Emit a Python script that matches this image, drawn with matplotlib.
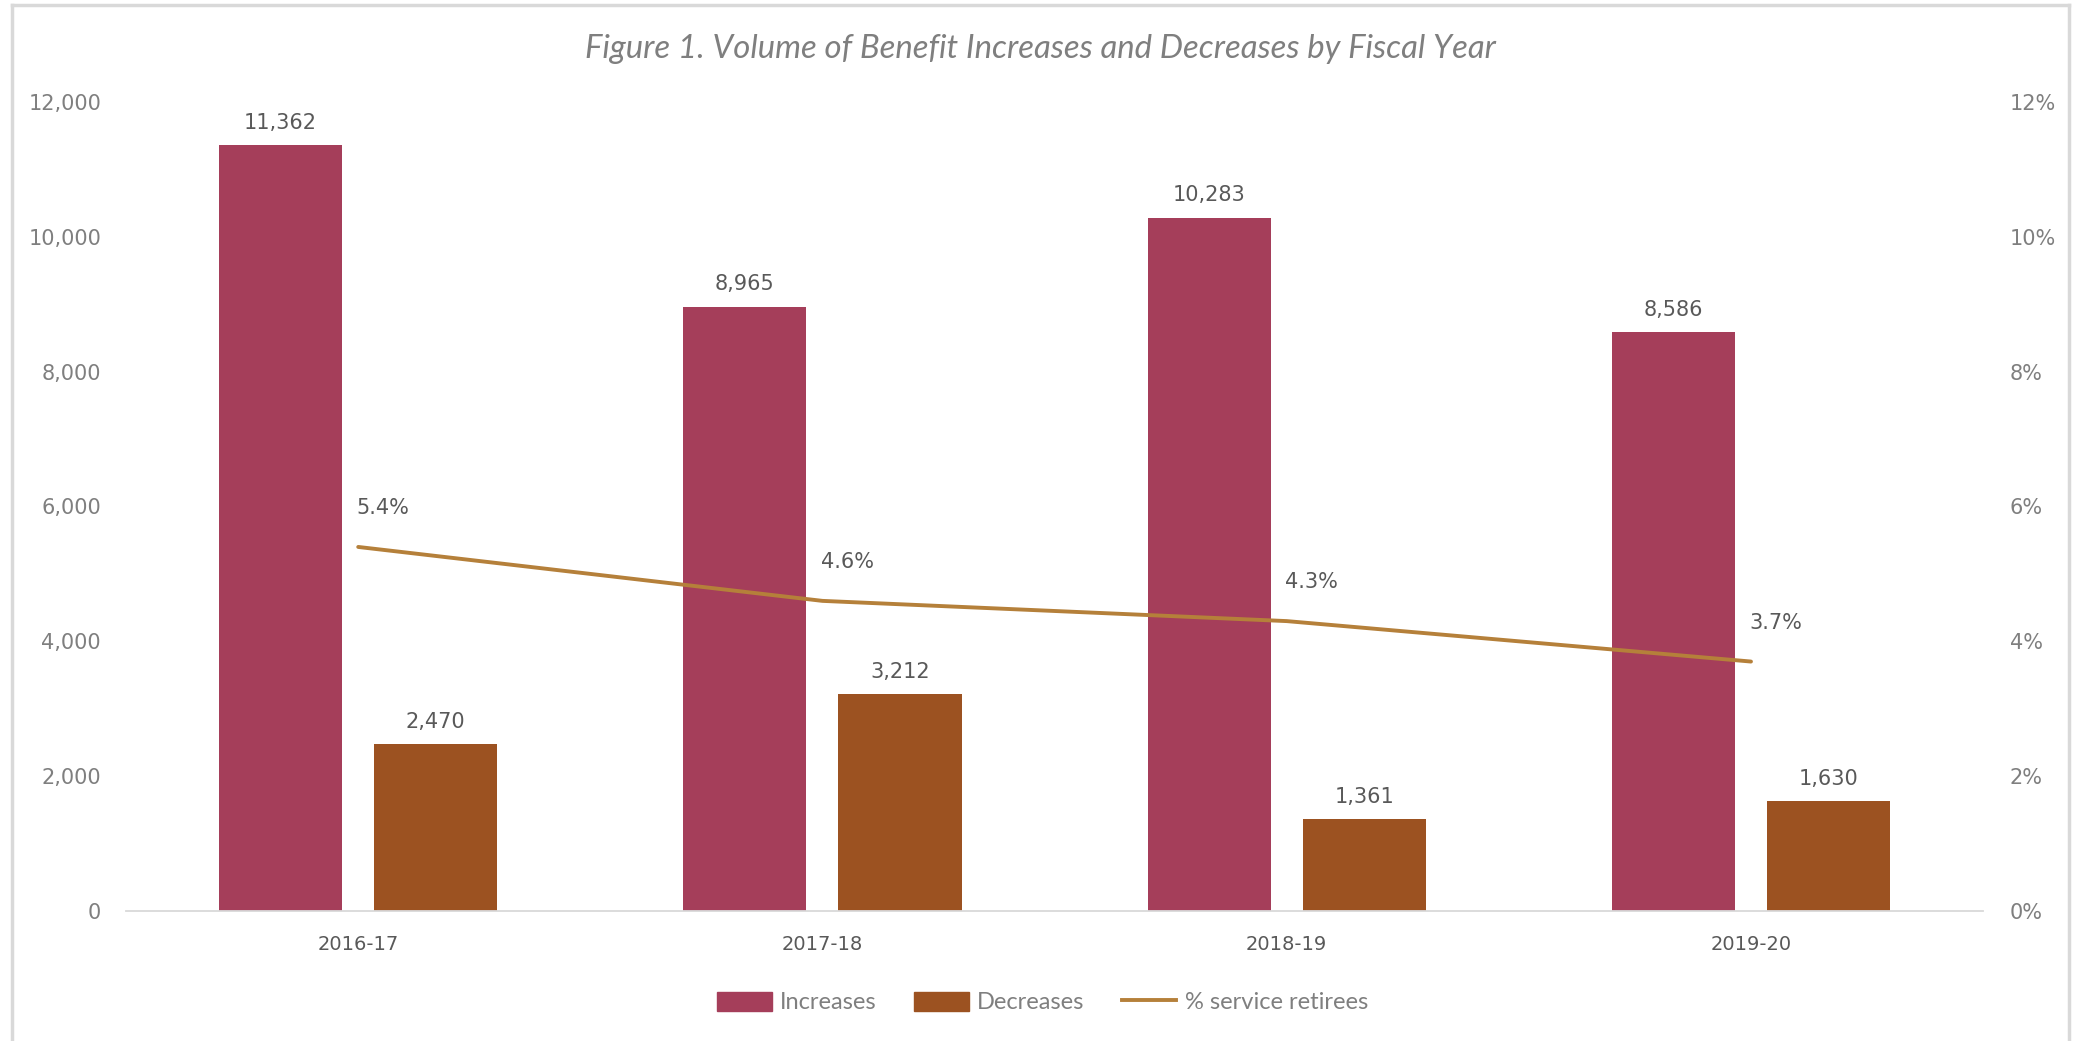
# Figure 1 - Volume of benefit increases and decreases by fiscal year
import numpy as np
import matplotlib
matplotlib.use("Agg")
import matplotlib.pyplot as plt
from matplotlib.ticker import FuncFormatter
from matplotlib.lines import Line2D
from matplotlib.patches import Patch

# data
years = ["2016-17", "2017-18", "2018-19", "2019-20"]
increases = [11362, 8965, 10283, 8586]
decreases = [2470, 3212, 1361, 1630]
pct_retirees = [5.4, 4.6, 4.3, 3.7]

# colours
c_inc = "#A53E5A"
c_dec = "#9C5221"
c_line = "#B5803A"
c_text = "#595959"
c_tick = "#7F7F7F"

narrow = ["Lato", "DejaVu Sans"]

fig = plt.figure(figsize=(20.77, 10.41), dpi=100)
ax = fig.add_axes([0.0607, 0.1249, 0.8941, 0.7771])
ax2 = ax.twinx()

x = np.arange(len(years))
w = 0.265
off = 0.167
ax.bar(x - off, increases, w, color=c_inc, linewidth=0, zorder=2)
ax.bar(x + off, decreases, w, color=c_dec, linewidth=0, zorder=2)

for xi, v in zip(x, increases):
    ax.annotate(f"{v:,}", (xi - off, v), xytext=(0, 9), textcoords="offset points",
                ha="center", va="bottom", fontsize=15, color=c_text)
for xi, v in zip(x, decreases):
    ax.annotate(f"{v:,}", (xi + off, v), xytext=(0, 9), textcoords="offset points",
                ha="center", va="bottom", fontsize=15, color=c_text)

ax2.plot(x, pct_retirees, color=c_line, lw=2.8, zorder=3, solid_capstyle="round")
for xi, v in zip(x, pct_retirees):
    ax2.annotate(f"{v:.1f}%", (xi, v), xytext=(-1, 28), textcoords="offset points",
                 ha="left", va="center", fontsize=15, color=c_text)

ax.set_xlim(-0.5, len(years) - 0.5)
ax.set_ylim(0, 12000)
ax.set_yticks(np.arange(0, 12001, 2000))
ax.yaxis.set_major_formatter(FuncFormatter(lambda v, p: f"{int(v):,}"))
ax2.set_ylim(0, 12)
ax2.set_yticks(np.arange(0, 13, 2))
ax2.yaxis.set_major_formatter(FuncFormatter(lambda v, p: f"{int(v)}%"))

ax.set_xticks(x)
ax.set_xticklabels(years)

for a in (ax, ax2):
    for s in a.spines.values():
        s.set_visible(False)
    a.tick_params(length=0, labelsize=15, labelcolor=c_tick)
ax.spines["bottom"].set_visible(True)
ax.spines["bottom"].set_color("#D9D9D9")
ax.spines["bottom"].set_linewidth(1.3)
ax.tick_params(axis="x", pad=17, labelsize=14, labelcolor=c_text)
ax.tick_params(axis="y", pad=18)
ax2.tick_params(axis="y", pad=19)

fig.text(0.5007, 0.953, "Figure 1. Volume of Benefit Increases and Decreases by Fiscal Year",
         ha="center", va="center", fontsize=23.7, style="italic", color=c_tick, family=narrow)

handles = [Patch(color=c_inc), Patch(color=c_dec), Line2D([], [], color=c_line, lw=2.8)]
leg = fig.legend(handles, ["Increases", "Decreases", "% service retirees"],
                 loc="center", bbox_to_anchor=(0.502, 0.037), ncol=3, frameon=False,
                 prop={"family": narrow, "size": 17}, handlelength=2.3, handleheight=0.85,
                 handletextpad=0.35, columnspacing=1.6)
for t in leg.get_texts():
    t.set_color(c_tick)

# light border around the chart
for xs, ys in [([0.0058, 0.0058], [0, 0.995]), ([0.0058, 0.9962], [0.995, 0.995]),
               ([0.9962, 0.9962], [0, 0.995])]:
    fig.add_artist(Line2D(xs, ys, transform=fig.transFigure, color="#D9D9D9", lw=2.5))

fig.savefig("out.png", dpi=100)
